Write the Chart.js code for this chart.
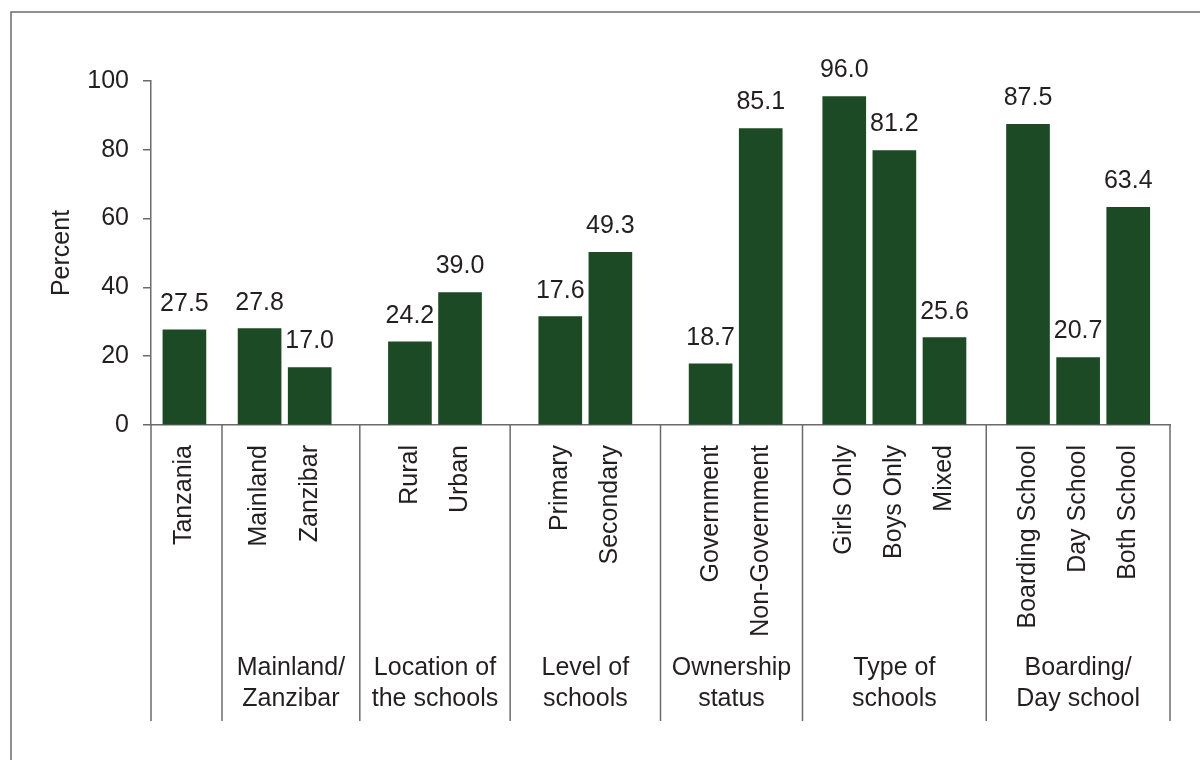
<!DOCTYPE html>
<html>
<head>
<meta charset="utf-8">
<title>Percent by school category</title>
<style>
  html, body { margin: 0; padding: 0; background: #fff; overflow: hidden; }
</style>
</head>
<body>
<canvas id="myChart" width="1200" height="760"></canvas>
<script src="https://cdn.jsdelivr.net/npm/chart.js@4.4.0/dist/chart.umd.min.js"></script>
<script>
let categories = ['Tanzania', 'Mainland', 'Zanzibar', 'Rural', 'Urban', 'Primary', 'Secondary',
    'Government', 'Non-Government', 'Girls Only', 'Boys Only', 'Mixed',
    'Boarding School', 'Day School', 'Both School'];
let groupOf = [0, 1, 1, 2, 2, 3, 3, 4, 4, 5, 5, 5, 6, 6, 6];
let groupNames = [
    [],
    ['Mainland/', 'Zanzibar'],
    ['Location of', 'the schools'],
    ['Level of', 'schools'],
    ['Ownership', 'status'],
    ['Type of', 'schools'],
    ['Boarding/', 'Day school']
];
// bar heights as drawn in the figure
let percents = [27.7, 28.0, 16.7, 24.2, 38.5, 31.5, 50.2, 17.8, 86.2, 95.5, 79.8, 25.4, 87.4, 19.6, 63.3];
// numbers printed above the bars
let printed = ['27.5', '27.8', '17.0', '24.2', '39.0', '17.6', '49.3', '18.7', '85.1',
    '96.0', '81.2', '25.6', '87.5', '20.7', '63.4'];
let yTicks = [0, 20, 40, 60, 80, 100];

// spacing of the category axis: slots between bars, blank slots before each group
let slotsPerBar = 6;
let groupGap = [4, 9, 12, 12, 12, 10, 10];
let trailing = 5;

let labels = [], values = [], valueText = [], barIndex = [];
function pad(n) {
    for (let k = 0; k < n; k++) {
        labels.push('');
        values.push(null);
        valueText.push(null);
    }
}
categories.forEach((name, i) => {
    if (i === 0) pad(groupGap[0]);
    else pad((groupOf[i] !== groupOf[i - 1] ? groupGap[groupOf[i]] : slotsPerBar) - 1);
    barIndex.push(labels.length);
    labels.push(name);
    values.push(percents[i]);
    valueText.push(printed[i]);
});
pad(trailing);

let ink = '#231f20';
let lineGrey = '#6b6b6b';
let family = '"Liberation Sans", Arial, sans-serif';
let font = '25px ' + family;

let decorations = {
    id: 'decorations',
    afterDraw(chart) {
        let ctx = chart.ctx;
        let area = chart.chartArea;
        let xs = chart.scales.x;
        let meta = chart.getDatasetMeta(0);

        // value labels
        ctx.save();
        ctx.font = font;
        ctx.fillStyle = ink;
        ctx.textAlign = 'center';
        ctx.textBaseline = 'middle';
        barIndex.forEach(idx => {
            let bar = meta.data[idx];
            ctx.fillText(valueText[idx], bar.x, bar.y - 26);
        });

        // group separators below the axis
        let edges = [area.left];
        for (let i = 1; i < categories.length; i++) {
            if (groupOf[i] !== groupOf[i - 1]) {
                edges.push((xs.getPixelForValue(barIndex[i - 1]) + xs.getPixelForValue(barIndex[i])) / 2);
            }
        }
        edges.push(area.right);
        ctx.strokeStyle = lineGrey;
        ctx.lineWidth = 1.5;
        edges.forEach(x => {
            ctx.beginPath();
            ctx.moveTo(x, area.bottom);
            ctx.lineTo(x, 721);
            ctx.stroke();
        });

        // group names
        groupNames.forEach((lines, g) => {
            let cx = (edges[g] + edges[g + 1]) / 2;
            lines.forEach((t, j) => ctx.fillText(t, cx, 668 + j * 31));
        });

        // outer frame
        ctx.beginPath();
        ctx.moveTo(11, 760);
        ctx.lineTo(11, 12);
        ctx.lineTo(1200, 12);
        ctx.stroke();
        ctx.restore();
    }
};

let chart = new Chart(document.getElementById('myChart').getContext('2d'), {
    type: 'bar',
    data: {
        labels: labels,
        datasets: [{
            data: values,
            backgroundColor: '#1b4a24',
            barThickness: 43
        }]
    },
    options: {
        responsive: false,
        animation: false,
        layout: {
            padding: { top: 81, right: 30, left: 0, bottom: 0 }
        },
        plugins: {
            legend: { display: false },
            tooltip: { enabled: false }
        },
        scales: {
            x: {
                offset: false,
                grid: { display: false, drawTicks: false },
                border: { display: true, color: lineGrey, width: 1.5 },
                ticks: {
                    autoSkip: false,
                    minRotation: 90,
                    maxRotation: 90,
                    padding: 20,
                    color: ink,
                    font: { family: family, size: 25 }
                },
                afterFit: s => {
                    s.height = 335;
                    s.paddingLeft = 0;
                    s.paddingRight = 0;
                }
            },
            y: {
                min: 0,
                max: 100,
                afterBuildTicks: s => { s.ticks = yTicks.map(v => ({ value: v })); },
                grid: { drawOnChartArea: false, tickLength: 8, color: lineGrey, lineWidth: 1.5 },
                border: { display: true, color: lineGrey, width: 1.5 },
                ticks: {
                    padding: 14,
                    color: ink,
                    font: { family: family, size: 25 }
                },
                title: {
                    display: true,
                    text: 'Percent',
                    color: ink,
                    font: { family: family, size: 25 },
                    padding: { top: 47, bottom: 0 }
                },
                afterFit: s => { s.width = 151; }
            }
        }
    },
    plugins: [decorations]
});
</script>
</body>
</html>
